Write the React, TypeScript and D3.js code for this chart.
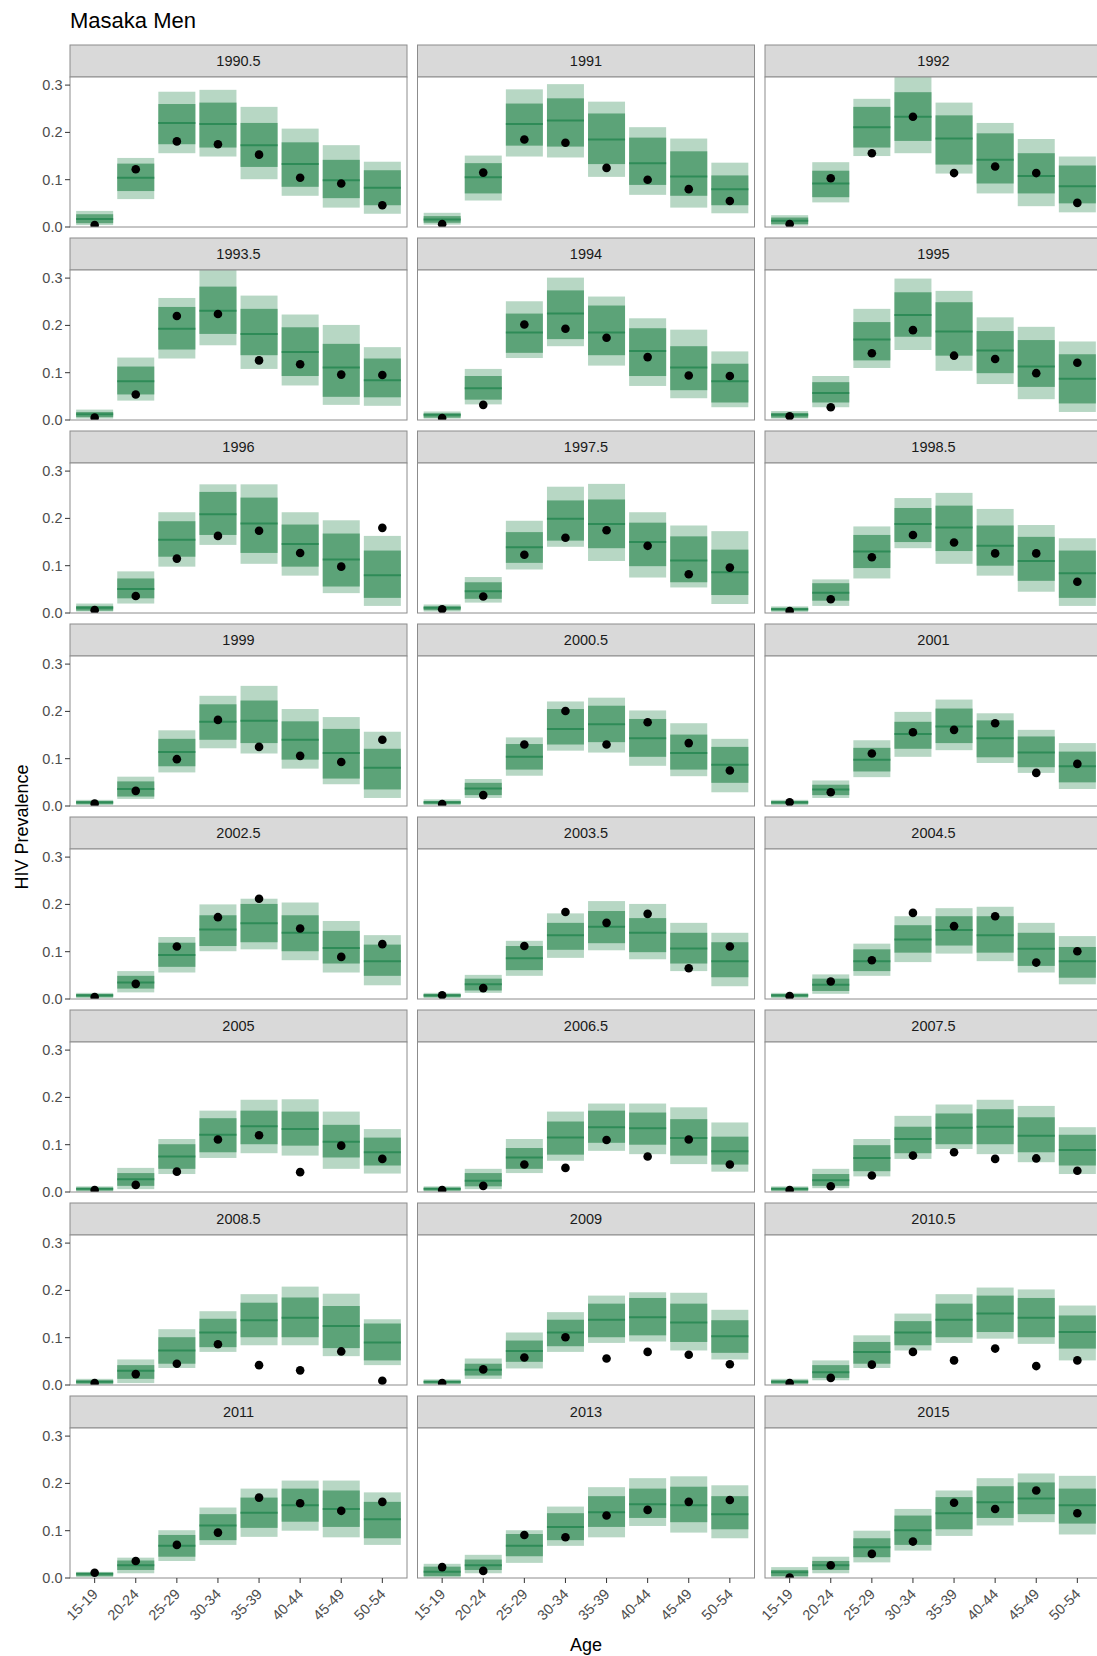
import React from "react";
import * as d3 from "d3";

const title = "Masaka Men";
const yTitle = "HIV Prevalence";
const xTitle = "Age";

const years = ["1990.5","1991","1992","1993.5","1994","1995","1996","1997.5","1998.5","1999","2000.5","2001","2002.5","2003.5","2004.5","2005","2006.5","2007.5","2008.5","2009","2010.5","2011","2013","2015"];
const ages = ["15-19","20-24","25-29","30-34","35-39","40-44","45-49","50-54"];
const yTicks = [0, 0.1, 0.2, 0.3];

const hi95 = [
  [0.034,0.146,0.286,0.29,0.254,0.208,0.173,0.138],
  [0.030,0.151,0.291,0.302,0.265,0.211,0.187,0.136],
  [0.025,0.137,0.271,0.33,0.263,0.22,0.186,0.149],
  [0.022,0.132,0.258,0.33,0.263,0.223,0.201,0.154],
  [0.018,0.108,0.251,0.301,0.261,0.215,0.191,0.145],
  [0.019,0.093,0.235,0.299,0.273,0.217,0.197,0.166],
  [0.020,0.088,0.213,0.272,0.272,0.213,0.196,0.163],
  [0.018,0.076,0.195,0.267,0.273,0.213,0.185,0.173],
  [0.014,0.071,0.183,0.243,0.254,0.22,0.186,0.158],
  [0.013,0.062,0.160,0.233,0.254,0.205,0.188,0.157],
  [0.014,0.057,0.145,0.221,0.229,0.202,0.175,0.142],
  [0.013,0.054,0.139,0.199,0.225,0.196,0.161,0.133],
  [0.013,0.059,0.131,0.200,0.212,0.204,0.165,0.135],
  [0.013,0.051,0.123,0.181,0.207,0.201,0.161,0.140],
  [0.013,0.052,0.117,0.175,0.192,0.195,0.161,0.133],
  [0.012,0.051,0.112,0.172,0.195,0.196,0.170,0.133],
  [0.012,0.049,0.112,0.170,0.187,0.187,0.179,0.147],
  [0.012,0.049,0.112,0.161,0.185,0.195,0.182,0.137],
  [0.013,0.054,0.118,0.156,0.192,0.208,0.193,0.139],
  [0.012,0.056,0.111,0.154,0.189,0.196,0.195,0.159],
  [0.013,0.052,0.105,0.151,0.192,0.206,0.202,0.168],
  [0.013,0.043,0.101,0.149,0.189,0.206,0.206,0.181],
  [0.030,0.049,0.101,0.151,0.192,0.211,0.215,0.196],
  [0.023,0.045,0.100,0.146,0.185,0.211,0.221,0.216],
];
const hi50 = [
  [0.027,0.134,0.26,0.263,0.22,0.179,0.142,0.12],
  [0.023,0.135,0.261,0.272,0.24,0.189,0.160,0.109],
  [0.020,0.119,0.254,0.285,0.236,0.198,0.156,0.13],
  [0.017,0.113,0.239,0.282,0.235,0.196,0.161,0.13],
  [0.014,0.093,0.225,0.274,0.242,0.194,0.156,0.119],
  [0.015,0.080,0.207,0.27,0.249,0.188,0.169,0.139],
  [0.015,0.073,0.194,0.256,0.244,0.187,0.168,0.132],
  [0.014,0.065,0.171,0.238,0.24,0.191,0.162,0.134],
  [0.011,0.063,0.165,0.222,0.227,0.185,0.161,0.132],
  [0.010,0.052,0.142,0.215,0.223,0.179,0.163,0.121],
  [0.010,0.049,0.131,0.205,0.212,0.184,0.151,0.125],
  [0.010,0.045,0.123,0.178,0.206,0.181,0.147,0.115],
  [0.010,0.049,0.119,0.177,0.201,0.177,0.144,0.115],
  [0.010,0.043,0.112,0.161,0.186,0.171,0.140,0.120],
  [0.010,0.043,0.105,0.156,0.175,0.175,0.140,0.110],
  [0.009,0.040,0.101,0.156,0.172,0.170,0.142,0.115],
  [0.009,0.040,0.093,0.149,0.172,0.168,0.154,0.117],
  [0.009,0.038,0.099,0.138,0.166,0.175,0.158,0.121],
  [0.010,0.042,0.101,0.140,0.174,0.185,0.167,0.130],
  [0.009,0.045,0.094,0.138,0.172,0.184,0.172,0.137],
  [0.010,0.042,0.091,0.135,0.172,0.189,0.184,0.147],
  [0.011,0.037,0.091,0.135,0.170,0.189,0.185,0.161],
  [0.024,0.039,0.093,0.137,0.173,0.189,0.193,0.173],
  [0.017,0.036,0.084,0.132,0.171,0.194,0.202,0.189],
];
const median = [
  [0.017,0.104,0.22,0.218,0.173,0.133,0.099,0.083],
  [0.016,0.105,0.218,0.225,0.185,0.135,0.107,0.080],
  [0.013,0.092,0.211,0.233,0.187,0.142,0.108,0.086],
  [0.012,0.082,0.193,0.231,0.182,0.144,0.111,0.084],
  [0.011,0.067,0.185,0.225,0.185,0.146,0.111,0.082],
  [0.011,0.057,0.170,0.222,0.187,0.147,0.113,0.087],
  [0.011,0.051,0.155,0.209,0.189,0.146,0.113,0.080],
  [0.011,0.046,0.139,0.199,0.188,0.150,0.111,0.086],
  [0.008,0.043,0.130,0.188,0.181,0.142,0.110,0.084],
  [0.008,0.036,0.114,0.178,0.180,0.140,0.112,0.081],
  [0.008,0.037,0.104,0.163,0.173,0.143,0.112,0.087],
  [0.008,0.035,0.098,0.152,0.168,0.143,0.113,0.084],
  [0.008,0.035,0.093,0.147,0.160,0.140,0.108,0.080],
  [0.008,0.031,0.086,0.135,0.153,0.140,0.107,0.080],
  [0.008,0.030,0.080,0.126,0.146,0.135,0.106,0.080],
  [0.007,0.027,0.075,0.121,0.139,0.133,0.106,0.084],
  [0.007,0.024,0.073,0.115,0.137,0.135,0.114,0.086],
  [0.007,0.025,0.072,0.112,0.136,0.138,0.119,0.089],
  [0.007,0.030,0.073,0.111,0.137,0.142,0.125,0.090],
  [0.007,0.032,0.072,0.111,0.138,0.143,0.132,0.103],
  [0.007,0.027,0.070,0.111,0.138,0.151,0.142,0.112],
  [0.009,0.027,0.068,0.111,0.138,0.154,0.146,0.124],
  [0.013,0.027,0.068,0.108,0.139,0.156,0.154,0.135],
  [0.012,0.027,0.065,0.101,0.137,0.160,0.168,0.154],
];
const lo50 = [
  [0.008,0.076,0.175,0.168,0.127,0.085,0.061,0.046],
  [0.009,0.071,0.172,0.170,0.133,0.089,0.066,0.046],
  [0.006,0.063,0.168,0.182,0.132,0.092,0.071,0.050],
  [0.006,0.054,0.149,0.182,0.137,0.093,0.049,0.048],
  [0.005,0.043,0.142,0.171,0.137,0.093,0.063,0.037],
  [0.005,0.037,0.126,0.176,0.136,0.099,0.070,0.035],
  [0.005,0.031,0.119,0.165,0.127,0.098,0.056,0.032],
  [0.006,0.030,0.106,0.153,0.137,0.099,0.065,0.038],
  [0.005,0.026,0.095,0.150,0.131,0.100,0.068,0.032],
  [0.004,0.020,0.084,0.140,0.133,0.098,0.058,0.035],
  [0.004,0.023,0.077,0.130,0.135,0.104,0.077,0.049],
  [0.004,0.023,0.073,0.121,0.133,0.103,0.082,0.050],
  [0.004,0.022,0.068,0.112,0.120,0.101,0.075,0.049],
  [0.004,0.018,0.061,0.104,0.118,0.099,0.075,0.046],
  [0.004,0.017,0.059,0.098,0.113,0.098,0.070,0.045],
  [0.003,0.013,0.049,0.084,0.101,0.098,0.073,0.056],
  [0.003,0.012,0.049,0.079,0.104,0.100,0.077,0.058],
  [0.003,0.013,0.044,0.082,0.101,0.101,0.084,0.056],
  [0.003,0.013,0.045,0.080,0.101,0.101,0.078,0.052],
  [0.003,0.020,0.049,0.082,0.101,0.105,0.091,0.068],
  [0.003,0.015,0.045,0.084,0.101,0.112,0.101,0.077],
  [0.004,0.017,0.045,0.080,0.106,0.119,0.108,0.084],
  [0.004,0.017,0.046,0.080,0.108,0.127,0.118,0.103],
  [0.004,0.017,0.044,0.070,0.103,0.127,0.135,0.115],
];
const lo95 = [
  [0.004,0.059,0.156,0.149,0.101,0.066,0.041,0.028],
  [0.005,0.056,0.149,0.147,0.106,0.068,0.041,0.029],
  [0.003,0.052,0.150,0.156,0.113,0.071,0.044,0.031],
  [0.003,0.041,0.130,0.158,0.108,0.073,0.032,0.030],
  [0.003,0.033,0.131,0.156,0.115,0.072,0.046,0.027],
  [0.003,0.027,0.110,0.148,0.104,0.076,0.044,0.017],
  [0.003,0.020,0.098,0.144,0.104,0.079,0.042,0.015],
  [0.003,0.022,0.092,0.140,0.110,0.075,0.054,0.019],
  [0.002,0.015,0.073,0.137,0.104,0.079,0.045,0.015],
  [0.002,0.015,0.071,0.122,0.111,0.079,0.046,0.017],
  [0.002,0.017,0.064,0.117,0.113,0.085,0.063,0.029],
  [0.002,0.017,0.061,0.104,0.118,0.091,0.070,0.036],
  [0.002,0.014,0.056,0.101,0.105,0.082,0.056,0.029],
  [0.002,0.013,0.049,0.087,0.103,0.084,0.059,0.027],
  [0.002,0.011,0.049,0.078,0.096,0.080,0.056,0.031],
  [0.001,0.006,0.038,0.072,0.082,0.077,0.049,0.039],
  [0.001,0.006,0.040,0.066,0.087,0.080,0.059,0.043],
  [0.001,0.008,0.033,0.070,0.091,0.080,0.063,0.038],
  [0.001,0.004,0.036,0.070,0.084,0.084,0.061,0.042],
  [0.001,0.013,0.035,0.070,0.089,0.092,0.073,0.054],
  [0.001,0.010,0.036,0.073,0.089,0.098,0.087,0.052],
  [0.002,0.010,0.036,0.070,0.087,0.100,0.086,0.070],
  [0.001,0.010,0.032,0.068,0.086,0.110,0.096,0.084],
  [0.001,0.010,0.033,0.058,0.089,0.111,0.118,0.092],
];
const observed = [
  [0.004,0.122,0.181,0.175,0.153,0.104,0.092,0.046],
  [0.006,0.115,0.185,0.178,0.125,0.100,0.080,0.055],
  [0.006,0.103,0.156,0.233,0.114,0.128,0.114,0.051],
  [0.005,0.054,0.220,0.224,0.126,0.118,0.096,0.095],
  [0.004,0.032,0.202,0.193,0.174,0.133,0.094,0.093],
  [0.008,0.027,0.141,0.190,0.136,0.129,0.099,0.121],
  [0.006,0.036,0.115,0.163,0.174,0.127,0.098,0.180],
  [0.008,0.035,0.123,0.159,0.175,0.142,0.082,0.096],
  [0.004,0.029,0.118,0.165,0.149,0.126,0.126,0.066],
  [0.005,0.032,0.099,0.182,0.125,0.106,0.093,0.140],
  [0.004,0.023,0.130,0.201,0.130,0.177,0.133,0.075],
  [0.008,0.029,0.111,0.156,0.161,0.175,0.070,0.089],
  [0.004,0.032,0.111,0.173,0.212,0.149,0.089,0.116],
  [0.008,0.023,0.112,0.184,0.161,0.180,0.065,0.111],
  [0.006,0.037,0.082,0.182,0.154,0.175,0.077,0.101],
  [0.004,0.015,0.043,0.111,0.120,0.042,0.098,0.070],
  [0.004,0.013,0.058,0.051,0.110,0.075,0.111,0.058],
  [0.004,0.012,0.035,0.077,0.084,0.070,0.071,0.045],
  [0.004,0.023,0.045,0.086,0.042,0.031,0.071,0.009],
  [0.004,0.033,0.058,0.101,0.056,0.070,0.064,0.044],
  [0.004,0.015,0.043,0.070,0.052,0.077,0.040,0.052],
  [0.011,0.036,0.070,0.096,0.170,0.158,0.142,0.161],
  [0.023,0.015,0.091,0.086,0.132,0.144,0.161,0.165],
  [0.001,0.027,0.051,0.077,0.159,0.146,0.185,0.137],
];

const W = 1097;
const H = 1656;
const NCOL = 3;
const colStep = 347.5;
const left0 = 70;
const panelW = 337;
const top0 = 45;
const rowStep = 193;
const stripH = 32;
const panelH = 150;

const FONT = "'Liberation Sans', Arial, Helvetica, sans-serif";
const OUTER = "#B7D7C4";
const INNER = "#5CA378";
const MED = "#2E8B57";
const BORDER = "#8C8C8C";

export default function App() {
  const x = d3.scalePoint<string>().domain(ages).range([0, panelW]).padding(0.6);
  const bw = x.step() * 0.9;
  const y = d3.scaleLinear().domain([0, 0.3]).range([panelH, panelH - 141.9]);
  const fmt = d3.format(".1f");
  const nRows = Math.ceil(years.length / NCOL);

  return (
    <svg
      width={W}
      height={H}
      style={{ position: "absolute", left: 0, top: 0, background: "#fff" }}
      fontFamily={FONT}
    >
      <defs>
        <clipPath id="pclip">
          <rect x={0} y={0} width={panelW} height={panelH} />
        </clipPath>
      </defs>
      <rect x={0} y={0} width={W} height={H} fill="#fff" />
      <text x={70} y={28} fontSize={22} fill="#000">{title}</text>

      {years.map((yr, p) => {
        const r = Math.floor(p / NCOL);
        const c = p % NCOL;
        const px = left0 + c * colStep;
        const sy = top0 + r * rowStep;
        const py = sy + stripH;
        const isLeft = c === 0;
        const isBottom = r === nRows - 1;
        return (
          <g key={yr}>
            <rect x={px} y={sy} width={panelW} height={stripH} fill="#D9D9D9" stroke={BORDER} strokeWidth={1} />
            <text x={px + panelW / 2} y={sy + stripH / 2 + 5} textAnchor="middle" fontSize={14.5} fill="#1A1A1A">{yr}</text>
            <g transform={`translate(${px},${py})`}>
              <rect x={0} y={0} width={panelW} height={panelH} fill="#fff" />
              <g clipPath="url(#pclip)">
                {ages.map((a, i) => (
                  <g key={a}>
                    <rect x={x(a)! - bw / 2} width={bw} y={y(hi95[p][i])} height={y(lo95[p][i]) - y(hi95[p][i])} fill={OUTER} />
                    <rect x={x(a)! - bw / 2} width={bw} y={y(hi50[p][i])} height={y(lo50[p][i]) - y(hi50[p][i])} fill={INNER} />
                    <line x1={x(a)! - bw / 2} x2={x(a)! + bw / 2} y1={y(median[p][i])} y2={y(median[p][i])} stroke={MED} strokeWidth={2} />
                  </g>
                ))}
                {ages.map((a, i) => (
                  <circle key={a} cx={x(a)!} cy={y(observed[p][i])} r={4.3} fill="#000" />
                ))}
              </g>
              <rect x={0} y={0} width={panelW} height={panelH} fill="none" stroke={BORDER} strokeWidth={1} />
              {isLeft && yTicks.map((t) => (
                <g key={t}>
                  <line x1={-5} x2={0} y1={y(t)} y2={y(t)} stroke="#333" strokeWidth={1} />
                  <text x={-7.5} y={y(t)} dy="0.35em" textAnchor="end" fontSize={14.5} fill="#4D4D4D">{fmt(t)}</text>
                </g>
              ))}
              {isBottom && ages.map((a) => (
                <g key={a}>
                  <line x1={x(a)!} x2={x(a)!} y1={panelH} y2={panelH + 5} stroke="#333" strokeWidth={1} />
                  <text
                    transform={`translate(${x(a)! + 4},${panelH + 17}) rotate(-45)`}
                    textAnchor="end"
                    fontSize={14.5}
                    fill="#4D4D4D"
                  >{a}</text>
                </g>
              ))}
            </g>
          </g>
        );
      })}

      <text x={586} y={1651} textAnchor="middle" fontSize={18} fill="#000">{xTitle}</text>
      <text transform={`translate(28,827) rotate(-90)`} textAnchor="middle" fontSize={18} fill="#000">{yTitle}</text>
    </svg>
  );
}
